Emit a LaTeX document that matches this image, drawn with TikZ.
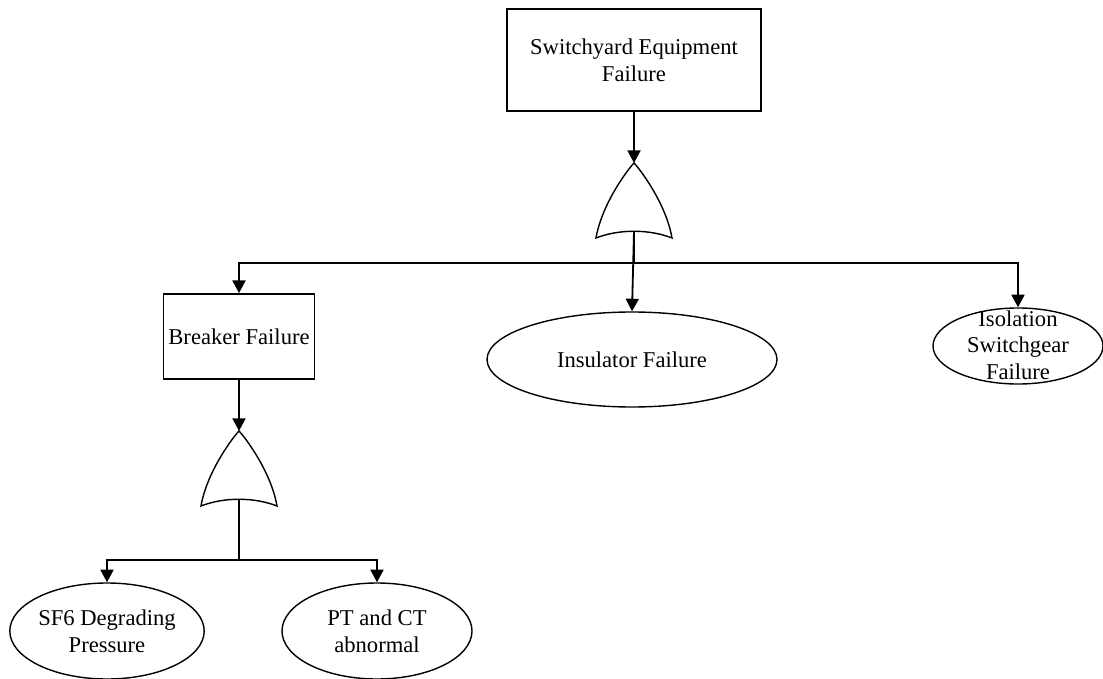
\documentclass[tikz,border=0pt]{standalone}
\usepackage{fontspec}
\setmainfont{Liberation Serif}
\usepackage{tikz}
\usetikzlibrary{arrows.meta,shapes.geometric,positioning}

\tikzset{
  orgate/.pic={
    \draw[line width=0.7pt, fill=white] (0,0) .. controls (-5,5) and (-32,40) .. (-38,75)
      .. controls (-15,66) and (15,66) .. (38,75)
      .. controls (32,40) and (5,5) .. (0,0) -- cycle;
    \coordinate (-in) at (0,0);
    \coordinate (-out) at (0,68);
  }
}

\begin{document}
\begin{tikzpicture}[x=0.5pt, y=-0.5pt, font=\fontsize{11.3}{13.3}\selectfont,
  box/.style={draw, rectangle, line width=0.9pt, inner sep=0pt, align=center},
  event/.style={draw, ellipse, line width=0.7pt, inner sep=0pt, align=center},
  wire/.style={line width=0.9pt},
  conn/.style={line width=0.9pt, -{Triangle[length=6.3pt,width=6.5pt]}}]
\useasboundingbox (0,0) rectangle (1103,679);
\node[box, minimum width=127pt, minimum height=51pt] (top) at (634,60) {Switchyard Equipment\\Failure};
\pic (g1) at (634,163) {orgate};
\coordinate (bus1) at (634,263);
\node[box, minimum width=75.5pt, minimum height=42.5pt] (brk) at (239,336.5) {Breaker Failure};
\node[event, minimum width=145pt, minimum height=47.5pt] (ins) at (632,359.5) {Insulator Failure};
\node[event, minimum width=85pt, minimum height=38pt] (iso) at (1018,346) {\smash{\raisebox{-3.5pt}{\begin{tabular}{@{}c@{}}Isolation\\Switchgear\\Failure\end{tabular}}}};
\pic (g2) at (239,431) {orgate};
\coordinate (bus2) at (239,560);
\node[event, minimum width=95pt, minimum height=48pt] (sf6) at (107,631) {SF6 Degrading\\Pressure};
\node[event, minimum width=95pt, minimum height=48pt] (pt) at (377,631) {PT and CT\\abnormal};

\draw[conn] (top.south) -- (g1-in);
\draw[wire] (g1-out) -- (bus1);
\draw[conn] (bus1) -| (brk.north);
\draw[conn] (bus1) -| (iso.north);
\draw[conn] (g1-out) -- (ins.north);
\draw[conn] (brk.south) -- (g2-in);
\draw[wire] (g2-out) -- (bus2);
\draw[conn] (bus2) -| (sf6.north);
\draw[conn] (bus2) -| (pt.north);
\end{tikzpicture}
\end{document}
